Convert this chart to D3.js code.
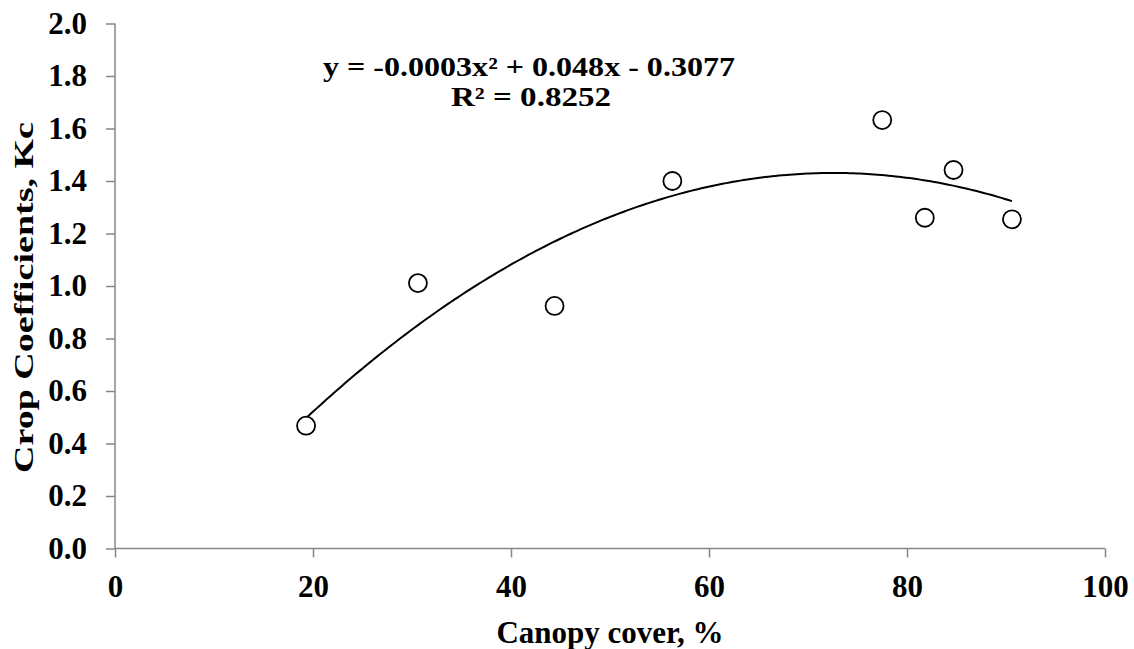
<!DOCTYPE html>
<html><head><meta charset="utf-8">
<script src="https://cdn.jsdelivr.net/npm/d3@7"></script>
<style>body{margin:0;background:#fff}svg{display:block}text{font-family:"Liberation Serif","Times New Roman",serif;font-weight:bold;fill:#000}</style>
</head><body>
<script>
const canopyCover = [19.3, 30.6, 44.4, 56.3, 77.5, 81.8, 84.7, 90.6];
const cropCoeff   = [0.468, 1.011, 0.924, 1.400, 1.632, 1.260, 1.442, 1.254];
const xTicks = [0, 20, 40, 60, 80, 100];
const yTicks = [0.0, 0.2, 0.4, 0.6, 0.8, 1.0, 1.2, 1.4, 1.6, 1.8, 2.0];
const equationText = "y = -0.0003x² + 0.048x - 0.3077";
const r2Text = "R² = 0.8252";
const xTitle = "Canopy cover, %";
const yTitle = "Crop Coefficients, Kc";

const W = 1134, H = 649;
const svg = d3.select("body").append("svg").attr("width", W).attr("height", H);
const x = d3.scaleLinear().domain([0, 100]).range([115, 1105]);
const y = d3.scaleLinear().domain([0, 2]).range([548.5, 23.5]);

const axisColor = "#868686";
const gx = svg.append("g").attr("transform", `translate(0,${y(0)})`)
  .call(d3.axisBottom(x).tickValues(xTicks).tickSize(9).tickPadding(17).tickFormat(d3.format("d")));
const gy = svg.append("g").attr("transform", `translate(${x(0)},0)`)
  .call(d3.axisLeft(y).tickValues(yTicks).tickSize(9).tickPadding(19).tickFormat(d3.format(".1f")));
[gx, gy].forEach(g => {
  g.select(".domain").attr("stroke", axisColor).attr("stroke-width", 1.5);
  g.selectAll(".tick line").attr("stroke", axisColor).attr("stroke-width", 1.5);
  g.selectAll(".tick text").style("font-size", "31px").attr("fill", "#000");
});
gx.select(".domain").attr("d", `M${x(0)},0H${x(100)}`);
gy.select(".domain").attr("d", `M0,${y(0)}V${y(2)}`);

// quadratic least-squares trendline from the data
function quadFit(xs, ys) {
  const n = xs.length; let S = Array(5).fill(0), T = Array(3).fill(0);
  for (let i = 0; i < n; i++) { for (let k = 0; k < 5; k++) S[k] += Math.pow(xs[i], k); for (let k = 0; k < 3; k++) T[k] += ys[i] * Math.pow(xs[i], k); }
  const M = [[S[0], S[1], S[2], T[0]], [S[1], S[2], S[3], T[1]], [S[2], S[3], S[4], T[2]]];
  for (let i = 0; i < 3; i++) { for (let j = i + 1; j < 3; j++) { const f = M[j][i] / M[i][i]; for (let k = i; k < 4; k++) M[j][k] -= f * M[i][k]; } }
  const c = [0, 0, 0];
  for (let i = 2; i >= 0; i--) { let s = M[i][3]; for (let k = i + 1; k < 3; k++) s -= M[i][k] * c[k]; c[i] = s / M[i][i]; }
  return c;
}
const coef = quadFit(canopyCover, cropCoeff);
const xMin = d3.min(canopyCover), xMax = d3.max(canopyCover);
const curve = d3.range(0, 201).map(i => { const v = xMin + (xMax - xMin) * i / 200; return [v, coef[0] + coef[1] * v + coef[2] * v * v]; });
svg.append("path").datum(curve)
  .attr("d", d3.line().x(d => x(d[0])).y(d => y(d[1])))
  .attr("fill", "none").attr("stroke", "#000").attr("stroke-width", 2);

svg.append("g").selectAll("circle").data(canopyCover.map((v, i) => [v, cropCoeff[i]])).join("circle")
  .attr("cx", d => x(d[0])).attr("cy", d => y(d[1])).attr("r", 9)
  .attr("fill", "#fff").attr("stroke", "#000").attr("stroke-width", 1.8);

svg.append("text").attr("x", 529).attr("y", 76).attr("text-anchor", "middle").style("font-size", "27px")
  .attr("textLength", 412).attr("lengthAdjust", "spacingAndGlyphs").text(equationText);
svg.append("text").attr("x", 531).attr("y", 106).attr("text-anchor", "middle").style("font-size", "27px")
  .attr("textLength", 160).attr("lengthAdjust", "spacingAndGlyphs").text(r2Text);

svg.append("text").attr("x", 610).attr("y", 643).attr("text-anchor", "middle").style("font-size", "31px").text(xTitle);
svg.append("text").attr("transform", `translate(33,297.5) rotate(-90)`).attr("text-anchor", "middle")
  .style("font-size", "28px").attr("textLength", 351).attr("lengthAdjust", "spacingAndGlyphs").text(yTitle);
</script>
</body></html>
